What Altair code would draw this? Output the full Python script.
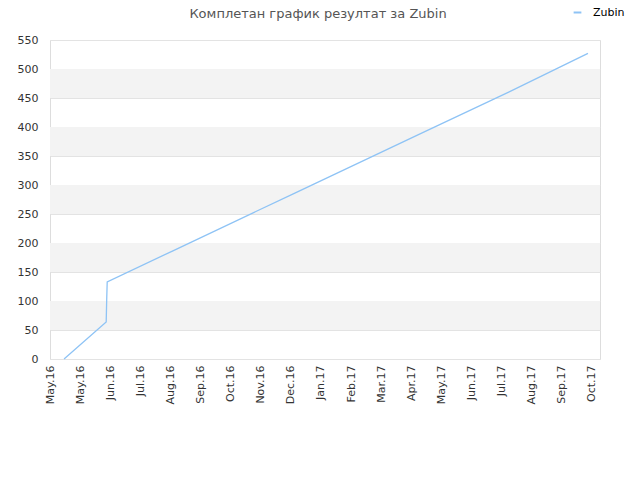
import altair as alt
import pandas as pd

# series
dates = ["2016-05-15", "2016-06-26", "2016-06-26T12:00", "2016-06-27",
         "2016-09-01", "2017-01-01", "2017-05-01", "2017-08-01", "2017-10-19"]
values = [0, 64, 103, 133, 187, 287, 385, 460, 527]
series_name = "Zubin"

tick_dates = ["2016-05-01", "2016-05-31", "2016-06-30", "2016-07-30", "2016-08-29",
              "2016-09-28", "2016-10-28", "2016-11-27", "2016-12-27", "2017-01-26",
              "2017-02-25", "2017-03-27", "2017-04-26", "2017-05-26", "2017-06-25",
              "2017-07-25", "2017-08-24", "2017-09-23", "2017-10-23"]
x_domain = ["2016-05-01", "2017-10-31"]
y_ticks = [0, 50, 100, 150, 200, 250, 300, 350, 400, 450, 500, 550]
band_starts = [50, 150, 250, 350, 450]
band_size = 50

title_text = "Комплетан график резултат за Zubin"

df = pd.DataFrame({"date": dates, "value": values, "series": series_name})
bands = pd.DataFrame({"y": band_starts, "y2": [b + band_size for b in band_starts]})

def ms(s):
    return int(pd.Timestamp(s, tz="UTC").timestamp() * 1000)

tick_ms = [ms(t) for t in tick_dates]
dom_ms = [ms(t) for t in x_domain]

FONT = "DejaVu Sans"

xscale = alt.Scale(type="utc", domain=dom_ms, nice=False)
yscale = alt.Scale(domain=[0, 550], nice=False)

yaxis = alt.Axis(values=y_ticks, ticks=False, domain=False, grid=True,
                 gridColor="#e3e3e3", labelPadding=12, labelOverlap=False,
                 labelFont=FONT, labelFontSize=11, labelColor="#333333")

band_layer = alt.Chart(bands).mark_rect(color="#f3f3f3").encode(
    y=alt.Y("y:Q", scale=yscale, title=None, axis=yaxis),
    y2="y2:Q",
)

line_layer = alt.Chart(df).mark_line(strokeWidth=1.3, interpolate="linear").encode(
    x=alt.X("date:T", scale=xscale, title=None,
            axis=alt.Axis(values=tick_ms, labelExpr="utcFormat(datum.value, '%b.%y')",
                          labelAngle=270, labelAlign="right", labelBaseline="middle",
                          labelPadding=6, ticks=False, grid=False, domain=False,
                          labelFont=FONT, labelFontSize=11, labelColor="#333333",
                          labelOverlap=False, labelFlush=False)),
    y=alt.Y("value:Q", scale=yscale, title=None, axis=yaxis),
    color=alt.Color("series:N", scale=alt.Scale(range=["#8ec3f5"]),
                    legend=alt.Legend(title=None, orient="none", legendX=522, legendY=-33,
                                      symbolType="stroke", symbolSize=60,
                                      symbolStrokeWidth=2, labelOffset=10,
                                      labelFont=FONT, labelFontSize=11,
                                      labelColor="#000000")),
)

chart = alt.layer(band_layer, line_layer).properties(
    width=550,
    height=319,
    autosize=alt.AutoSizeParams(type="none"),
    padding={"left": 42, "top": 32, "right": 32, "bottom": 113},
    title=alt.TitleParams(title_text, font=FONT, fontSize=13, fontWeight="normal",
                          color="#555555", anchor="middle", dx=-7, dy=18, offset=4),
).configure_view(stroke="#d9d9d9", strokeWidth=1).configure(background="white")

chart.save("out.html", embed_options={"renderer": "svg", "actions": False})
